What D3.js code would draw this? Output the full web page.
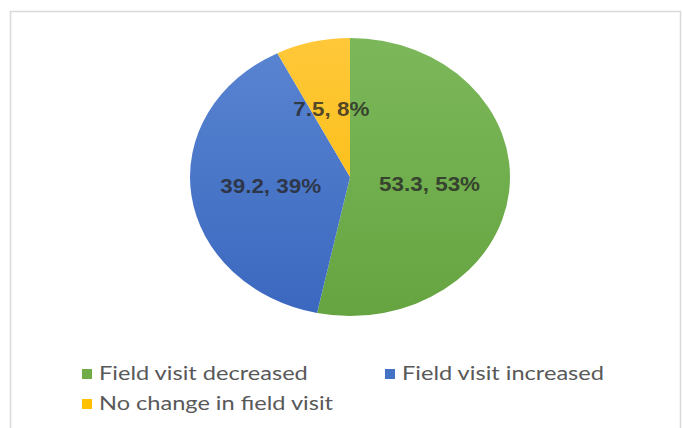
<!DOCTYPE html>
<html>
<head>
<meta charset="utf-8">
<script src="https://cdn.jsdelivr.net/npm/d3@7"></script>
<style>
  html, body { margin: 0; padding: 0; background: #ffffff; }
  svg { display: block; }
</style>
</head>
<body>
<svg id="chart" width="682" height="428"></svg>
<script>
// ---- data ----
const categories = ["Field visit decreased", "Field visit increased", "No change in field visit"];
const values = [53.3, 39.2, 7.5];
const percentLabels = ["53%", "39%", "8%"];
const colors = ["#70AD47", "#4472C4", "#FFC000"];
const lightColors = ["#7cb85a", "#5a85d2", "#ffc83a"];
const darkColors = ["#66a441", "#3b68bf", "#f8b900"];

const svg = d3.select("#chart");
const W = 682, H = 428;

// chart border
svg.append("rect")
  .attr("x", 10.5).attr("y", 11.5)
  .attr("width", 670).attr("height", 440)
  .attr("fill", "#ffffff")
  .attr("stroke", "#d9d9d9").attr("stroke-width", 1.5);

const cx = 350, cy = 177, rx = 160, ry = 139;
const sx = 1.15; // horizontal stretch of the original picture

const defs = svg.append("defs");
colors.forEach((c, i) => {
  const g = defs.append("linearGradient")
    .attr("id", "grad" + i)
    .attr("gradientUnits", "userSpaceOnUse")
    .attr("x1", 0).attr("y1", -rx).attr("x2", 0).attr("y2", rx);
  g.append("stop").attr("offset", "0%").attr("stop-color", lightColors[i]);
  g.append("stop").attr("offset", "100%").attr("stop-color", darkColors[i]);
});

const pie = d3.pie().sort(null).value(d => d).startAngle(0).endAngle(2 * Math.PI);
const arcs = pie(values);
const arc = d3.arc().innerRadius(0).outerRadius(rx);

const pg = svg.append("g")
  .attr("transform", `translate(${cx},${cy}) scale(1,${ry / rx})`);

pg.selectAll("path.slice")
  .data(arcs)
  .join("path")
  .attr("class", "slice")
  .attr("d", arc)
  .attr("fill", (d, i) => `url(#grad${i})`)
  .attr("stroke", "none");

// data labels
svg.append("g").selectAll("text.lbl")
  .data(arcs)
  .join("text")
  .attr("class", "lbl")
  .attr("transform", (d, i) => {
    const [x, y] = arc.centroid(d);
    return `translate(${cx + x},${cy + y * ry / rx + 7}) scale(${sx},1)`;
  })
  .attr("text-anchor", "middle")
  .attr("font-family", "'Liberation Sans', Arial, sans-serif")
  .attr("font-weight", "bold")
  .attr("font-size", "19.5px")
  .attr("fill", "#262626")
  .attr("fill-opacity", 0.8)
  .text((d, i) => `${values[i]}, ${percentLabels[i]}`);

// legend
const legendPos = [[82, 380], [385, 380], [82, 410]];
const lg = svg.append("g").selectAll("g.leg")
  .data(categories)
  .join("g")
  .attr("class", "leg")
  .attr("transform", (d, i) => `translate(${legendPos[i][0]},${legendPos[i][1]})`);

lg.append("rect")
  .attr("x", 0).attr("y", -11)
  .attr("width", 10).attr("height", 10)
  .attr("fill", (d, i) => colors[i]);

lg.append("text")
  .attr("transform", `translate(17,0) scale(1.21,1)`)
  .attr("font-family", "Lato, 'Open Sans', sans-serif")
  .attr("font-size", "19.5px")
  .attr("fill", "#595959")
  .text(d => d);
</script>
</body>
</html>
